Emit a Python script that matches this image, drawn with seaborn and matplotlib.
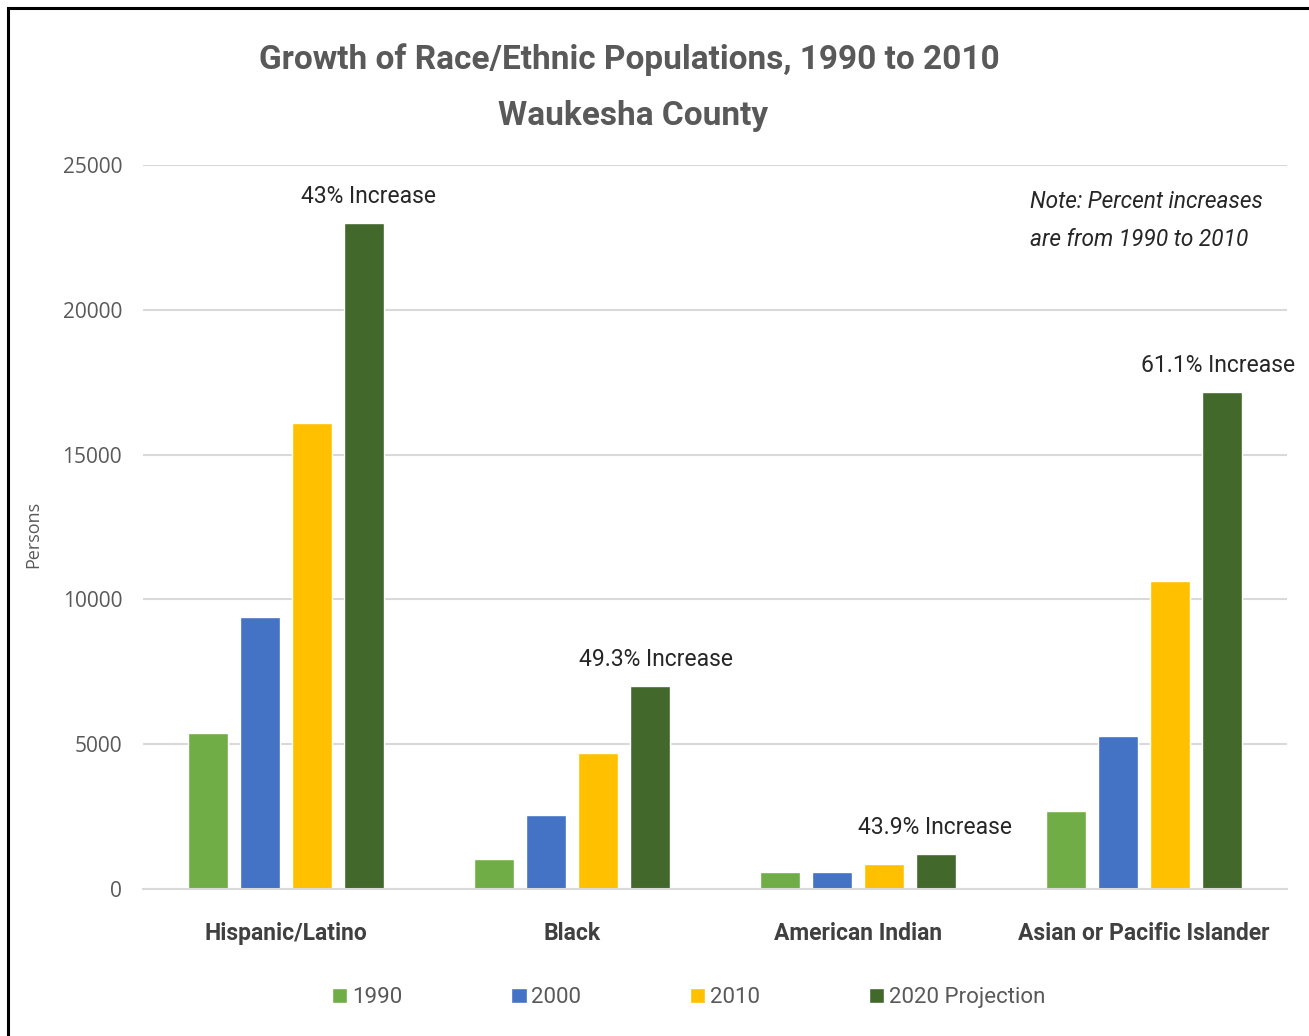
import matplotlib
matplotlib.use("Agg")
import matplotlib.pyplot as plt
import seaborn as sns
import pandas as pd
from matplotlib.patches import Rectangle

categories = ["Hispanic/Latino", "Black", "American Indian", "Asian or Pacific Islander"]
years = ["1990", "2000", "2010", "2020 Projection"]
v1990 = [5400, 1050, 600, 2700]
v2000 = [9400, 2550, 600, 5300]
v2010 = [16100, 4700, 850, 10650]
v2020 = [23000, 7000, 1200, 17150]
increase_labels = ["43% Increase", "49.3% Increase", "43.9% Increase", "61.1% Increase"]
yticks = [0, 5000, 10000, 15000, 20000, 25000]
colors = ["#70AD47", "#4472C4", "#FFC000", "#43682B"]

rows = []
for yr, vals in zip(years, [v1990, v2000, v2010, v2020]):
    for c, v in zip(categories, vals):
        rows.append({"Category": c, "Year": yr, "Persons": v})
df = pd.DataFrame(rows)

sns.set_style("white")
plt.rcParams["font.family"] = ["Roboto", "DejaVu Sans"]

fig = plt.figure(figsize=(13.09, 10.36), dpi=100)
ax = fig.add_axes([0.1092, 0.1419, 0.874, 0.6988])

sns.barplot(data=df, x="Category", y="Persons", hue="Year", order=categories,
            hue_order=years, palette=colors, width=0.73, gap=0.23,
            saturation=1, ax=ax, legend=True)

ax.set_ylim(0, 25000)
ax.set_xlim(-0.5, 3.5)
ax.set_yticks(yticks)
ax.set_yticklabels([str(t) for t in yticks], fontfamily="Open Sans", fontsize=15, color="#595959")
ax.yaxis.grid(True, color="#D9D9D9", linewidth=1.5)
ax.set_axisbelow(True)
for s in ["top", "right", "left"]:
    ax.spines[s].set_visible(False)
ax.spines["bottom"].set_color("#D9D9D9")
ax.spines["bottom"].set_linewidth(1.5)
ax.tick_params(axis="y", length=0, pad=15)
ax.set_xticks(range(len(categories)))
ax.set_xticklabels(categories, fontsize=16.5, fontweight="bold", color="#404040")
ax.tick_params(axis="x", length=0, pad=24)
ax.set_xlabel("")
ax.set_ylabel("Persons", fontfamily="Open Sans", fontsize=13, color="#595959")
ax.yaxis.set_label_coords(-0.088, 0.49)

# increase annotations above the projection bars
offsets = [0.29, 0.295, 0.27, 0.26]
for i, (lab, v) in enumerate(zip(increase_labels, v2020)):
    ax.annotate(lab, xy=(i + offsets[i], v), xytext=(0, 11), textcoords="offset points",
                ha="center", va="bottom", fontsize=16.5, color="#262626")

ax.text(0.775, 0.966, "Note: Percent increases\nare from 1990 to 2010", transform=ax.transAxes,
        ha="left", va="top", fontsize=16.3, fontstyle="italic", color="#262626", linespacing=1.85)

fig.text(0.481, 0.942, "Growth of Race/Ethnic Populations, 1990 to 2010", ha="center", va="center",
         fontsize=24, fontweight="bold", color="#595959")
fig.text(0.484, 0.888, "Waukesha County", ha="center", va="center",
         fontsize=24, fontweight="bold", color="#595959")

handles, labels = ax.get_legend_handles_labels()
ax.legend_.remove()
fig.legend(handles, labels, loc="center", bbox_to_anchor=(0.526, 0.037), ncol=4, frameon=False,
           fontsize=16, labelcolor="#595959", handlelength=0.7, handleheight=0.7,
           handletextpad=0.2, columnspacing=4.9)

fig.patches.append(Rectangle((8 / 1309, -0.1), 1.2, 1 - 8 / 1036 + 0.1, transform=fig.transFigure,
                             fill=False, edgecolor="black", linewidth=2.2))

fig.savefig("out.png", dpi=100)
